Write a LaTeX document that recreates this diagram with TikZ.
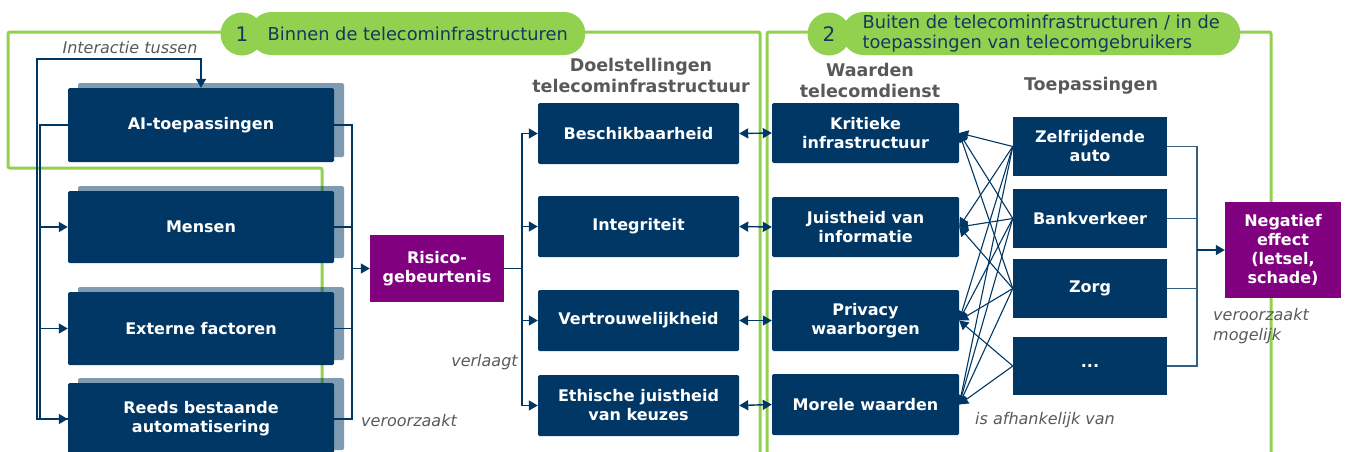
\documentclass[tikz,border=0pt]{standalone}
\usepackage{fontspec}
\setmainfont{DejaVu Sans}
\usetikzlibrary{arrows.meta,shadows}

\definecolor{navy}{HTML}{003764}
\definecolor{paars}{HTML}{800080}
\definecolor{lichtgroen}{HTML}{92D050}
\definecolor{tekstgrijs}{HTML}{595959}
\definecolor{pilblauw}{HTML}{17375E}

\tikzset{
  blok/.style={fill=navy, text=white, font=\fontsize{16}{19}\selectfont\bfseries,
    align=center, inner sep=0pt, rounded corners=1.5pt},
  schaduwblok/.style={blok, drop shadow={shadow xshift=10pt, shadow yshift=5pt,
    shadow scale=1, fill=navy, opacity=0.5}},
  paarsblok/.style={fill=paars, text=white, font=\fontsize{16}{19}\selectfont\bfseries,
    align=center, inner sep=0pt},
  kop/.style={text=tekstgrijs, font=\fontsize{17.5}{21}\selectfont\bfseries, align=center},
  toelichting/.style={text=tekstgrijs, font=\fontsize{16}{20}\selectfont\itshape, inner sep=0pt},
  lijn/.style={draw=navy, line width=1.4pt},
  pijl/.style={lijn, -{Triangle[length=9pt,width=10pt]}},
  dubbelpijl/.style={lijn, {Triangle[length=9pt,width=10pt]}-{Triangle[length=9pt,width=10pt]}},
  kruispijl/.style={draw=navy, line width=1.1pt, -{Triangle[length=9pt,width=10pt]}},
  dunlijn/.style={draw=navy!80, line width=1.1pt},
  kader/.style={draw=lichtgroen, line width=3pt, rounded corners=2pt},
  pil/.style={fill=lichtgroen, text=pilblauw, font=\fontsize{17.8}{20.5}\selectfont,
    rounded corners=21pt, minimum height=43pt, inner sep=0pt},
  nummer/.style={circle, fill=lichtgroen, text=pilblauw, font=\fontsize{20}{20}\selectfont,
    minimum size=43pt, inner sep=0pt},
}

\begin{document}
\begin{tikzpicture}[x=1pt, y=-1pt]
    \useasboundingbox (0,0) rectangle (1346,451);

    % Groene kaders van beide domeinen
    \draw[kader] (322,455) -- (322,168) -- (8,168) -- (8,32) -- (760,32) -- (760,455);
    \draw[kader] (767,455) -- (767,32) -- (1271,32) -- (1271,455);
    \node[pil, minimum width=335pt, anchor=west] (pil1) at (250,33.5) {Binnen de telecominfrastructuren};
    \node[nummer] (nr1) at (242,34) {1};
    \node[pil, minimum width=398pt, anchor=west, align=left] (pil2) at (842,33.5)
        {Buiten de telecominfrastructuren / in de\\toepassingen van telecomgebruikers};
    \node[nummer] (nr2) at (829,34) {2};

    % Oorzaken
    \node[schaduwblok, minimum width=266pt, minimum height=74pt] (ai) at (201,125) {AI-toepassingen};
    \node[schaduwblok, minimum width=266pt, minimum height=72pt] (mensen) at (201,227) {Mensen};
    \node[schaduwblok, minimum width=266pt, minimum height=73pt] (extern) at (201,328.5) {Externe factoren};
    \node[schaduwblok, minimum width=266pt, minimum height=72pt] (reeds) at (201,419) {Reeds bestaande\\automatisering};

    \node[paarsblok, minimum width=134pt, minimum height=67pt] (risico) at (437,268.5) {Risico-\\gebeurtenis};

    % Doelstellingen
    \node[kop] (kopdoel) at (641,75.5) {Doelstellingen\\telecominfrastructuur};
    \node[blok, minimum width=201pt, minimum height=61pt] (beschik) at (638.5,133.5) {Beschikbaarheid};
    \node[blok, minimum width=201pt, minimum height=61pt] (integr) at (638.5,226.5) {Integriteit};
    \node[blok, minimum width=201pt, minimum height=61pt] (vertr) at (638.5,320.5) {Vertrouwelijkheid};
    \node[blok, minimum width=201pt, minimum height=61pt] (ethisch) at (638.5,405.5) {Ethische juistheid\\van keuzes};

    % Waarden
    \node[kop] (kopwaarden) at (870,80) {Waarden\\telecomdienst};
    \node[blok, minimum width=187pt, minimum height=60pt] (kritiek) at (865.5,133) {Kritieke\\infrastructuur};
    \node[blok, minimum width=187pt, minimum height=60pt] (juist) at (865.5,227) {Juistheid van\\informatie};
    \node[blok, minimum width=187pt, minimum height=61pt] (privacy) at (865.5,320.5) {Privacy\\waarborgen};
    \node[blok, minimum width=187pt, minimum height=61pt] (morele) at (865.5,404.5) {Morele waarden};

    % Toepassingen
    \node[kop] (koptoep) at (1091,86) {Toepassingen};
    \node[blok, rounded corners=0pt, minimum width=154pt, minimum height=59pt] (zelf) at (1090,146.5) {Zelfrijdende\\auto};
    \node[blok, rounded corners=0pt, minimum width=154pt, minimum height=59pt] (bank) at (1090,218.5) {Bankverkeer};
    \node[blok, rounded corners=0pt, minimum width=154pt, minimum height=59pt] (zorg) at (1090,288.5) {Zorg};
    \node[blok, rounded corners=0pt, minimum width=154pt, minimum height=58pt] (rest) at (1090,366) {...};

    \node[paarsblok, minimum width=116pt, minimum height=96pt] (negatief) at (1283,250) {Negatief\\effect\\(letsel,\\schade)};

    % Interactie tussen de oorzaken
    \node[toelichting] (interactie) at (130,48) {Interactie tussen};
    \coordinate (busl) at (40,125);
    \coordinate (lus) at (37,59);
    \draw[pijl] (ai.west) -- (busl) |- (reeds.west);
    \draw[pijl] (busl |- mensen.west) -- (mensen.west);
    \draw[pijl] (busl |- extern.west) -- (extern.west);
    \draw[pijl] (reeds.west) -| (lus) -| (ai.north);

    % Oorzaken naar risicogebeurtenis
    \coordinate (busr) at (352,268.5);
    \foreach \n in {ai,mensen,extern,reeds}
        \draw[lijn] (\n.east) -| (busr);
    \draw[pijl] (busr) -- (risico.west);
    \node[toelichting, anchor=west] (veroorzaakt) at (361,421) {veroorzaakt};

    % Risicogebeurtenis naar doelstellingen
    \coordinate (busd) at (522,268.5);
    \draw[lijn] (risico.east) -- (busd);
    \foreach \n in {beschik,integr,vertr,ethisch}
        \draw[pijl] (busd) |- (\n.west);
    \node[toelichting] (verlaagt) at (484.5,362) {verlaagt};

    % Doelstellingen en waarden
    \draw[dubbelpijl] (beschik.east) -- (kritiek.west);
    \draw[dubbelpijl] (integr.east) -- (juist.west);
    \draw[dubbelpijl] (vertr.east) -- (privacy.west);
    \draw[dubbelpijl] (ethisch.east) -- (morele.west);

    % Waarden hangen af van toepassingen
    \foreach \t/\w in {zelf/kritiek, zelf/juist, zelf/privacy, zelf/morele,
                       bank/kritiek, bank/juist, bank/privacy, bank/morele,
                       zorg/kritiek, zorg/juist, zorg/privacy, zorg/morele,
                       rest/privacy, rest/morele}
        \draw[kruispijl] (\t.west) -- (\w.east);
    \node[toelichting, anchor=west] (afhankelijk) at (975,420) {is afhankelijk van};

    % Toepassingen naar negatief effect
    \coordinate (busn) at (1197,250);
    \foreach \n in {zelf,bank,zorg,rest}
        \draw[dunlijn] (\n.east) -| (busn);
    \draw[pijl] (busn) -- (negatief.west);
    \node[toelichting, anchor=north west, align=left] (mogelijk) at (1213,308) {veroorzaakt\\mogelijk};
\end{tikzpicture}
\end{document}
